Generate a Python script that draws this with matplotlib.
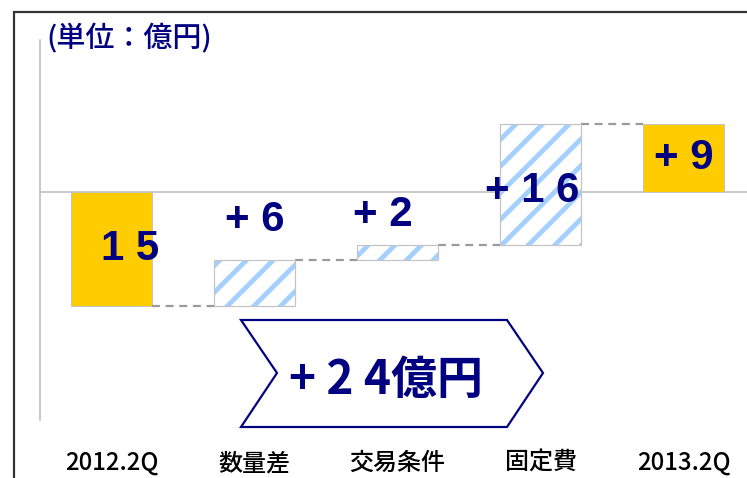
import matplotlib
matplotlib.use("Agg")
import matplotlib.pyplot as plt
from matplotlib.patches import Rectangle, Polygon

# ---- data (億円) ----
categories = ["2012.2Q", "数量差", "交易条件", "固定費", "2013.2Q"]
start_value = -15
changes = [6, 2, 16]
end_value = 9
unit_label = "(単位：億円)"

# ---- canvas ----
DPI = 160
W, H = 747, 478


def pt(px):
    """Convert a pixel length to points at the figure dpi."""
    return px * 72 / DPI


NAVY = "#000080"
GOLD = "#FFCC00"
STRIPE = "#A3D0FF"
EDGE = "#C4C4C4"
AXIS = "#BDBDBD"

plt.rcParams["hatch.linewidth"] = pt(4.8)
JP = ["Noto Sans CJK JP", "DejaVu Sans"]
NUM = ["Liberation Sans", "DejaVu Sans"]

fig = plt.figure(figsize=(W / DPI, H / DPI), dpi=DPI)
fig.patch.set_facecolor("white")

ax = fig.add_axes([40 / W, (H - 420) / H, 715 / W, 380 / H])
ax.set_xlim(-0.5, 4.5)
ax.set_ylim(-30, 20)
for side in ("top", "right", "bottom"):
    ax.spines[side].set_visible(False)
ax.spines["left"].set_color(AXIS)
ax.spines["left"].set_linewidth(pt(1.6))
ax.set_xticks([])
ax.set_yticks([])
ax.axhline(0, color=AXIS, lw=pt(1.6), zorder=1)

bw = 0.56

# opening and closing totals
ax.bar(0, start_value, bw, color=GOLD, edgecolor=EDGE, linewidth=pt(1), zorder=2)
ax.bar(4, end_value, bw, color=GOLD, edgecolor=EDGE, linewidth=pt(1), zorder=2)

# change bars stacked on the running total
level = start_value
levels = []
for i, ch in enumerate(changes, start=1):
    ax.bar(i, ch, bw, bottom=level, color="white", edgecolor=STRIPE,
           hatch="//", linewidth=0, zorder=2)
    ax.bar(i, ch, bw, bottom=level, fill=False, edgecolor=EDGE,
           linewidth=pt(1.2), zorder=3)
    levels.append(level)
    level += ch

# dashed connectors between consecutive bars
conn_levels = [start_value] + [lv + ch for lv, ch in zip(levels, changes)]
for i, lv in enumerate(conn_levels):
    ax.plot([i + bw / 2, i + 1 - bw / 2], [lv, lv], color="#9A9A9A",
            lw=pt(2.2), dashes=(3.6, 2.6), zorder=2, solid_capstyle="butt",
            dash_capstyle="butt")


def spaced(n, sign=""):
    digits = " ".join(str(abs(n)))
    return f"{sign} {digits}" if sign else digits


# value labels
label_texts = [spaced(start_value)] + [spaced(c, "+") for c in changes] + [spaced(end_value, "+")]
label_dx = [0.13, 0.0, -0.1, -0.06, 0.0]
label_y = [start_value / 2, levels[0] + changes[0] + 5.3, levels[1] + changes[1] + 4.0,
           levels[2] + changes[2] / 2 - 0.9, end_value / 2]
for i, (t, dx, y) in enumerate(zip(label_texts, label_dx, label_y)):
    ax.text(i + dx, y, t, ha="center", va="center", color=NAVY,
            fontsize=pt(42), family=NUM, fontweight="bold", zorder=5)

# category labels
for i, c in enumerate(categories):
    ax.text(i, -(463 - 420) / 380, c, transform=ax.get_xaxis_transform(),
            ha="center", va="center", fontsize=pt(24), family=JP, color="black",
            fontweight="medium")

# unit label
fig.text(46 / W, 1 - 38 / H, unit_label, ha="left", va="center",
         fontsize=pt(29), family=JP, color=NAVY, fontweight="medium")

# outer frame (left and top edges visible)
fig.add_artist(Rectangle((13.5 / W, -0.2), 1.5, 1.2 - 11.5 / H, fill=False,
                         edgecolor="#333333", lw=pt(2.2), transform=fig.transFigure,
                         clip_on=False))

# total-improvement chevron
chev_px = [(241, 320), (507, 320), (543, 373), (507, 427), (241, 427), (277, 373)]
fig.add_artist(Polygon([(x / W, 1 - y / H) for x, y in chev_px], closed=True,
                       facecolor="white", edgecolor=NAVY, lw=pt(2.2),
                       transform=fig.transFigure, zorder=6))
total_change = sum(changes)
fig.text(386 / W, 1 - 380 / H, "+ " + " ".join(str(total_change)) + "億円",
         ha="center", va="center", fontsize=pt(46), family=JP, color=NAVY,
         fontweight="bold", zorder=7)

fig.savefig("out.png", dpi=DPI)
